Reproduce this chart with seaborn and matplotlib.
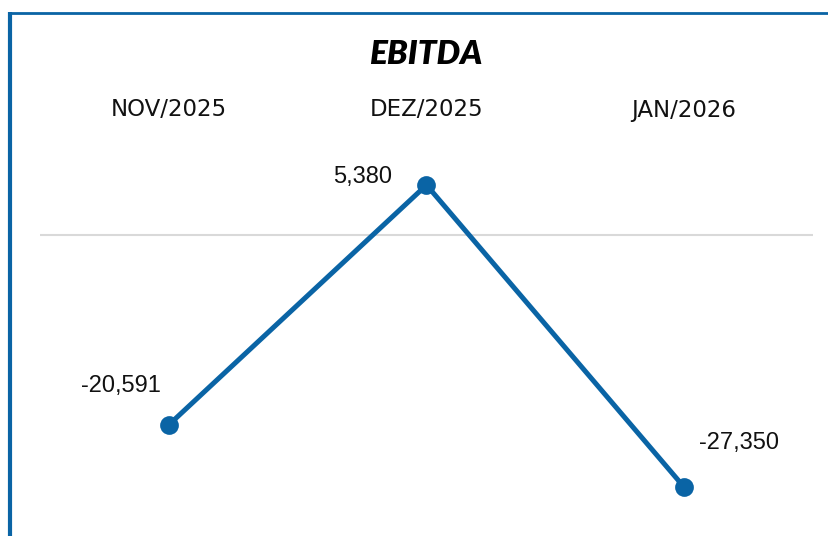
import matplotlib
matplotlib.use("Agg")
import matplotlib.pyplot as plt
from matplotlib.lines import Line2D
import seaborn as sns
import pandas as pd

categories = ["NOV/2025", "DEZ/2025", "JAN/2026"]
values = [-20591, 5380, -27350]
labels = ["-20,591", "5,380", "-27,350"]
title = "EBITDA"

sns.set_theme(style="white")
W, H = 829, 536
fig = plt.figure(figsize=(W / 100, H / 100), dpi=100)

def px(x0, y0, x1, y1):
    return [x0 / W, 1 - y1 / H, (x1 - x0) / W, (y1 - y0) / H]

ax = fig.add_axes(px(40.25, 140, 812.75, 520))
df = pd.DataFrame({"x": range(len(categories)), "v": values})
blue = "#0A64A5"
ax.axhline(0, color="#D9D9D9", lw=1.5, zorder=0)
sns.lineplot(data=df, x="x", y="v", ax=ax, color=blue, lw=3.6,
             marker="o", markersize=13.5, markeredgewidth=0, zorder=3)
ax.set_xlim(-0.5, 2.5)
ax.set_ylim(-30926, 10257)
ax.axis("off")

offsets = [(-48, 39), (-64, 8), (55, 44)]
for i, (v, lab) in enumerate(zip(values, labels)):
    ax.annotate(lab, (i, v), xytext=(offsets[i][0] * 0.72, offsets[i][1] * 0.72),
                textcoords="offset points", ha="center", va="center",
                fontsize=17, family="Liberation Sans", color="#111111")

for i, c in enumerate(categories):
    xf = (40.25 + (i + 0.5) * 257.5) / W
    fig.text(xf, 1 - 110 / H, c, ha="center", va="center", fontsize=16.5,
             family="DejaVu Sans", color="#111111")

fig.text(426 / W, 1 - 55 / H, title, ha="center", va="center", fontsize=24,
         family="Lato", fontweight="heavy", fontstyle="italic", color="#000000")

# frame lines (left and top)
fig.add_artist(Line2D([10 / W, 10 / W], [0, 1 - 12 / H], color=blue, lw=3,
                      solid_capstyle="butt", transform=fig.transFigure))
fig.add_artist(Line2D([8 / W, 1], [1 - 13 / H, 1 - 13 / H], color=blue, lw=2,
                      solid_capstyle="butt", transform=fig.transFigure))

fig.savefig("out.png", dpi=100)
